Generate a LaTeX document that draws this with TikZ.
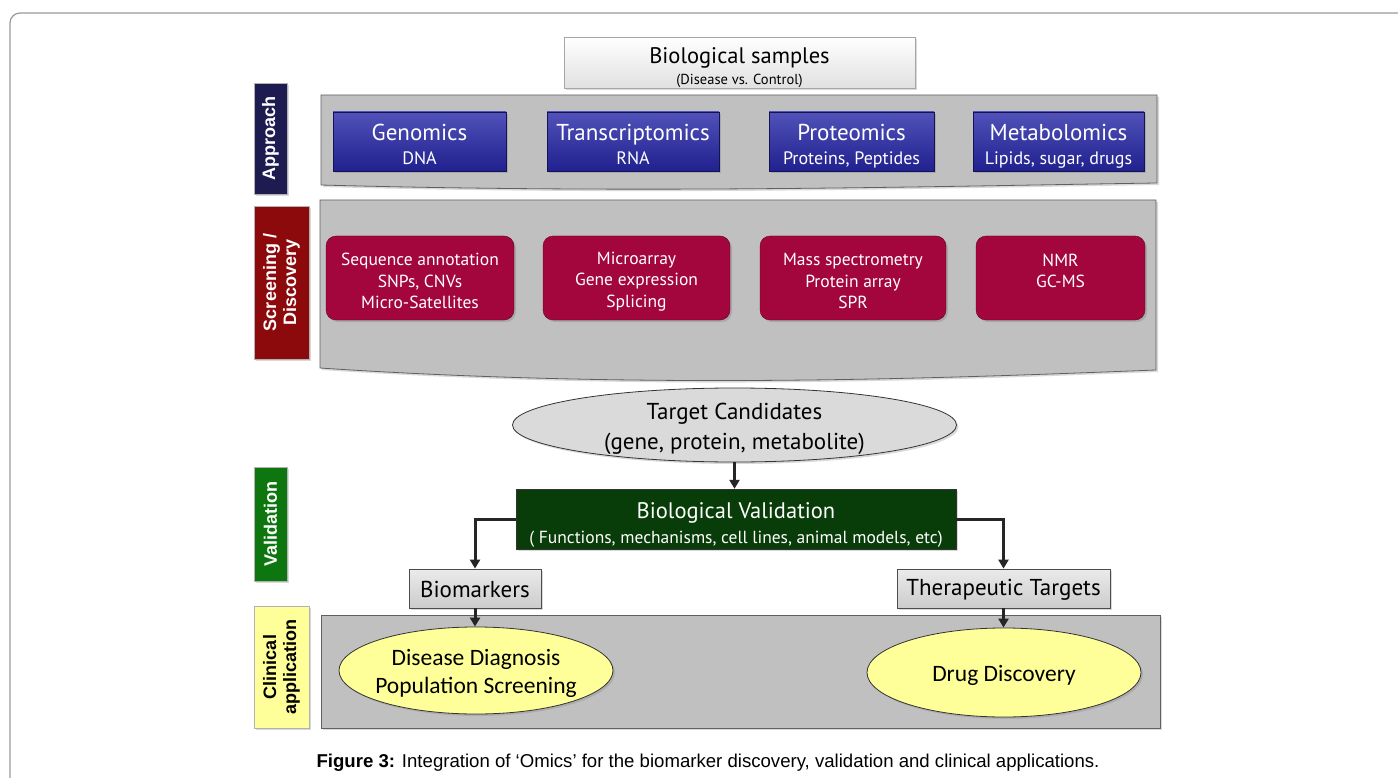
\documentclass[tikz,border=0pt]{standalone}
\usepackage{fontspec}
\setmainfont{PT Sans}
\newfontfamily\arialfont{Liberation Sans}
\newfontfamily\califont{Carlito}
\usetikzlibrary{shapes.geometric,shadows,arrows.meta}
\tikzset{>=latex}

\definecolor{panelgray}{RGB}{192,192,192}
\definecolor{omicblue}{RGB}{38,38,168}
\definecolor{screenred}{RGB}{163,6,60}
\definecolor{navylabel}{RGB}{30,27,80}
\definecolor{redlabel}{RGB}{140,10,12}
\definecolor{greenlabel}{RGB}{14,118,14}
\definecolor{validgreen}{RGB}{8,60,8}
\definecolor{clinyellow}{RGB}{255,255,153}
\definecolor{candgray}{RGB}{218,218,218}

\newcommand{\fs}[1]{\fontsize{#1}{#1}\selectfont}
% extra room above the first line, pushes the text block down
\newcommand{\topgap}[1]{\rule{0pt}{#1}}

\begin{document}
\begin{tikzpicture}[x=1pt,y=-1pt,
  panel/.style={fill=panelgray,draw=gray!75!black,line width=0.8pt,
    drop shadow={shadow xshift=2pt,shadow yshift=-2pt,opacity=0.3}},
  sidelabel/.style={rotate=90,inner sep=0pt,align=center,draw=gray!60,
    font=\arialfont\bfseries\fontsize{18}{20}\selectfont,text=white,
    drop shadow={shadow xshift=2pt,shadow yshift=-2pt,opacity=0.3}},
  omicbox/.style={inner sep=0pt,align=center,draw=omicblue!50!black,
    top color=omicblue!80!white,bottom color=omicblue!85!black,
    text=white,font=\fontsize{23}{24}\selectfont,
    drop shadow={shadow xshift=2pt,shadow yshift=-2pt,opacity=0.35}},
  screenbox/.style={inner sep=0pt,align=center,rounded corners=10pt,
    draw=screenred!60!black,fill=screenred,text=white,
    font=\fontsize{17.5}{21.5}\selectfont,
    drop shadow={shadow xshift=2pt,shadow yshift=-2pt,opacity=0.35}},
  greybox/.style={inner sep=0pt,draw=black!70,line width=0.8pt,
    top color=white!92!black,bottom color=white!80!black,
    font=\fontsize{23}{24}\selectfont,
    drop shadow={shadow xshift=2pt,shadow yshift=-2pt,opacity=0.3}},
  oval/.style={ellipse,inner xsep=-30pt,inner ysep=-12pt,align=center,draw=black!80,line width=0.8pt,
    drop shadow={shadow xshift=2pt,shadow yshift=-2pt,opacity=0.3}},
  flow/.style={->,>={Triangle[length=9pt,width=10pt]},line width=3pt,draw=black!85},
]
\useasboundingbox (0,0) rectangle (1398,778);
\clip (0,0) rectangle (1398,778);

% outer frame
\draw[gray!80,line width=1.2pt,rounded corners=10pt] (10,13) rectangle (1440,820);

% panels
\draw[panel] (321,95) -- (1157,95) -- (1157,183)
  .. controls (950,186) and (650,194) .. (321,185) -- cycle;
\draw[panel] (320,200) -- (1156,200) -- (1156,370)
  .. controls (950,378) and (650,390) .. (320,368) -- cycle;
\draw[panel] (321,615) rectangle (1160,728);

% side labels
\node[sidelabel,fill=navylabel,minimum width=111pt,minimum height=33pt]
  (approach) at (270.5,138.5) {Approach};
\node[sidelabel,fill=redlabel,minimum width=153pt,minimum height=55pt]
  (screening) at (281.5,282.5) {Screening /\\Discovery};
\node[sidelabel,fill=greenlabel,minimum width=114pt,minimum height=33pt]
  (validation) at (270.5,524) {Validation};
\node[sidelabel,fill=clinyellow,text=black,minimum width=122pt,minimum height=55pt]
  (clinical) at (281.5,667) {Clinical\\application};

% samples
\node[inner sep=0pt,align=center,draw=gray!70,line width=0.8pt,
  top color=white,bottom color=white!88!black,
  minimum width=351pt,minimum height=51pt,
  drop shadow={shadow xshift=2pt,shadow yshift=-2pt,opacity=0.3}]
  (samples) at (739.5,62.5)
  {\fontsize{22.5}{22.5}\selectfont\topgap{26pt}Biological samples\\[5pt]{\fs{14.5}(Disease vs. Control)}};

% approach
\node[omicbox,minimum width=173pt,minimum height=59pt] (genomics) at (419.5,141.5)
  {\topgap{25pt}Genomics\\{\fs{18}DNA\vphantom{gp,}}};
\node[omicbox,minimum width=172pt,minimum height=59pt] (transcript) at (633,141.5)
  {\topgap{25pt}Transcriptomics\\{\fs{18}RNA\vphantom{gp,}}};
\node[omicbox,minimum width=165pt,minimum height=59pt] (proteomics) at (851.5,141.5)
  {\topgap{25pt}Proteomics\\{\fs{18}Proteins, Peptides}};
\node[omicbox,minimum width=171pt,minimum height=59pt] (metabolomics) at (1058.5,141.5)
  {\topgap{25pt}Metabolomics\\{\fs{18}Lipids, sugar, drugs}};

% screening
\node[screenbox,minimum width=188pt,minimum height=84pt] (seq) at (420,278)
  {\topgap{19pt}Sequence annotation\\SNPs, CNVs\\Micro-Satellites};
\node[screenbox,minimum width=187pt,minimum height=84pt] (micro) at (636.5,278)
  {\topgap{19pt}Microarray\\Gene expression\\Splicing};
\node[screenbox,minimum width=186pt,minimum height=84pt] (mass) at (853,278)
  {\topgap{19pt}Mass spectrometry\\Protein array\\SPR};
\node[screenbox,minimum width=169pt,minimum height=84pt] (nmr) at (1060.5,278)
  {\topgap{19pt}NMR\\GC-MS\\\phantom{X}};

% candidates and validation
\node[oval,fill=candgray,minimum width=444pt,minimum height=74pt,
  font=\fontsize{23}{30}\selectfont] (cand) at (734.5,425)
  {\topgap{25pt}Target Candidates\\(gene, protein, metabolite)};
\node[inner sep=0pt,align=center,draw=black!80,fill=validgreen,text=white,
  minimum width=440pt,minimum height=60pt,font=\fontsize{22.5}{25}\selectfont,
  drop shadow={shadow xshift=2pt,shadow yshift=-2pt,opacity=0.3}]
  (valid) at (736,519)
  {\topgap{27pt}Biological Validation\\{\fs{17.5}( Functions, mechanisms, cell lines, animal models, etc)}};

\node[greybox,minimum width=132pt,minimum height=39pt] (biom) at (475,588.5) {\topgap{19pt}Biomarkers};
\node[greybox,minimum width=213pt,minimum height=39pt] (ther) at (1003.5,588.5) {\topgap{19pt}Therapeutic Targets};

% clinical
\node[oval,fill=clinyellow,minimum width=274pt,minimum height=87pt,
  font=\califont\fontsize{23.5}{28}\selectfont] (diag) at (476,670.5)
  {\topgap{23pt}Disease Diagnosis\\Population Screening};
\node[oval,fill=clinyellow,minimum width=274pt,minimum height=89pt,
  font=\califont\fontsize{23.5}{28}\selectfont] (drug) at (1004,672.5)
  {\topgap{23pt}Drug Discovery};

% connectors
\draw[flow] (cand.south) -- (cand.south |- valid.north);
\draw[flow] (valid.west) -| (biom.north);
\draw[flow] (valid.east) -| (ther.north);
\draw[flow] (biom.south) -- (biom.south |- diag.north);
\draw[flow] (ther.south) -- (ther.south |- drug.north);

% caption
\node[font=\arialfont\fontsize{18.6}{20}\selectfont] (caption) at (708,763)
  {\textbf{Figure 3:} Integration of ‘Omics’ for the biomarker discovery, validation and clinical applications.};
\end{tikzpicture}
\end{document}
